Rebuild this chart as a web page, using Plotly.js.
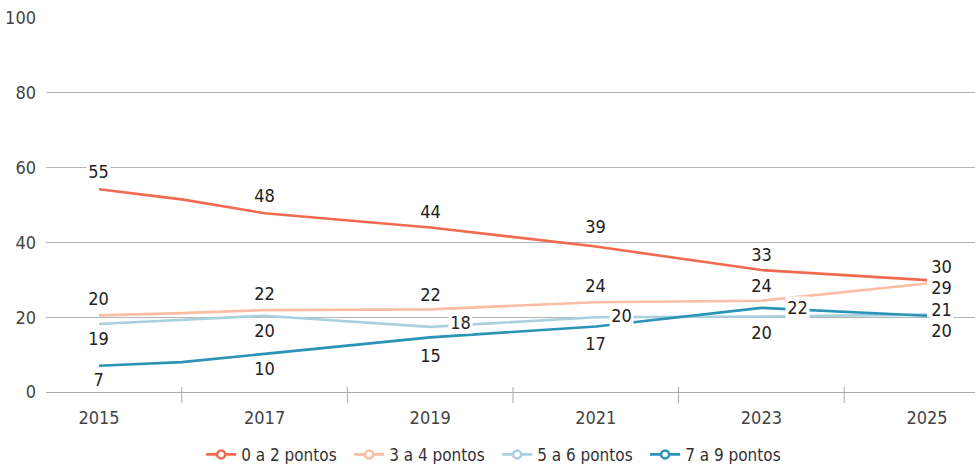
<!DOCTYPE html>
<html>
<head>
<meta charset="utf-8">
<script src="https://cdn.plot.ly/plotly-3.0.1.min.js"></script>
<style>
html,body{margin:0;padding:0;background:#fff;}
#chart{width:975px;height:464px;}
#chart text{font-stretch:condensed !important;}
</style>
</head>
<body>
<div id="chart"></div>
<script>
// ---- data ----
const years = [2015, 2016, 2017, 2019, 2021, 2023, 2025];
const seriesNames = ["0 a 2 pontos", "3 a 4 pontos", "5 a 6 pontos", "7 a 9 pontos"];
const s0a2 = [54.2, 51.5, 47.8, 44.0, 38.9, 32.6, 29.9];
const s3a4 = [20.5, 21.1, 21.9, 22.1, 24.0, 24.4, 29.0];
const s5a6 = [18.2, 19.3, 20.4, 17.4, 20.0, 20.2, 20.7];
const s7a9 = [7.0, 8.0, 10.2, 14.6, 17.5, 22.5, 20.4];
const labelYears = [2015, 2017, 2019, 2021, 2023, 2025];
const lab0a2 = [55, 48, 44, 39, 33, 30];
const lab3a4 = [20, 22, 22, 24, 24, 29];
const lab5a6 = [19, 20, 18, 20, 20, 21];
const lab7a9 = [7, 10, 15, 17, 22, 20];
const tickYears = [2015, 2017, 2019, 2021, 2023, 2025];
const boundaryYears = [2016, 2018, 2020, 2022, 2024];

// ---- style ----
const colors = ["#f26a4f", "#fbbda3", "#a8d0e1", "#2b93b5"];
const FONT = "'DejaVu Sans', 'Liberation Sans', sans-serif";
const labelYShift = [
  [18, 18, 16, 20, 16, 14],
  [16.5, 16.5, 15, 17, 15, -4],
  [-15, -14.5, 4.5, 1.5, -16.5, 5.5],
  [-14, -15, -18, -17, 0, -15]
];
const labelXShift = [
  [0, 0, 0, 0, 0, 15],
  [0, 0, 0, 0, 0, 15],
  [0, 0, 30, 26, 0, 15],
  [0, 0, 0, 0, 36, 15]
];

const allSeries = [s0a2, s3a4, s5a6, s7a9];
const allLabels = [lab0a2, lab3a4, lab5a6, lab7a9];

const traces = [];
allSeries.forEach((s, i) => {
  traces.push({
    x: years, y: s, type: "scatter", mode: "lines",
    line: {color: colors[i], width: 2.6},
    showlegend: false, hoverinfo: "skip"
  });
});
allSeries.forEach((s, i) => {
  traces.push({
    x: [null], y: [null], type: "scatter", mode: "lines+markers",
    name: seriesNames[i],
    line: {color: colors[i], width: 2.6},
    marker: {symbol: "circle", size: 8, color: "#ffffff", line: {color: colors[i], width: 2.5}},
    showlegend: true
  });
});

const annotations = [];
allLabels.forEach((labs, i) => {
  labs.forEach((v, j) => {
    const yr = labelYears[j];
    const yv = allSeries[i][years.indexOf(yr)];
    annotations.push({
      x: yr, y: yv, xref: "x", yref: "y",
      text: String(v), showarrow: false,
      xanchor: "center", yanchor: "middle",
      xshift: labelXShift[i][j], yshift: labelYShift[i][j],
      bgcolor: "#ffffff", borderpad: 0,
      font: {family: FONT, size: 18, color: "#222222"}
    });
  });
});

const shapes = boundaryYears.map(yr => ({
  type: "line", xref: "x", yref: "paper",
  x0: yr, x1: yr, y0: -11 / 374, y1: 5 / 374,
  line: {color: "#aaaaaa", width: 1}, layer: "above"
}));

const layout = {
  width: 975, height: 464,
  margin: {l: 46, r: 0, t: 18, b: 72, autoexpand: false},
  paper_bgcolor: "#ffffff", plot_bgcolor: "#ffffff",
  font: {family: FONT, size: 18, color: "#444444"},
  xaxis: {
    type: "linear", range: [2014.36, 2025.58],
    tickvals: tickYears, ticktext: tickYears.map(String),
    ticks: "", showgrid: false, zeroline: false,
    showline: true, linecolor: "#aaaaaa", linewidth: 1,
    tickfont: {family: FONT, size: 18, color: "#444444"},
    ticklabelstandoff: 9, fixedrange: true
  },
  yaxis: {
    range: [0, 100], tickvals: [0, 20, 40, 60, 80, 100],
    ticks: "", showgrid: true, gridcolor: "#b5b5b5", gridwidth: 1,
    zeroline: false, showline: false,
    tickfont: {family: FONT, size: 18, color: "#444444"},
    ticklabelstandoff: 9, fixedrange: true
  },
  legend: {
    orientation: "h", x: 0.167, xanchor: "left", y: -0.168, yanchor: "middle",
    entrywidth: 103, entrywidthmode: "pixels",
    font: {family: FONT, size: 17, color: "#333333"},
    bgcolor: "rgba(0,0,0,0)"
  },
  annotations: annotations,
  shapes: shapes,
  showlegend: true
};

Plotly.newPlot("chart", traces, layout, {displayModeBar: false, staticPlot: true});
</script>
</body>
</html>
